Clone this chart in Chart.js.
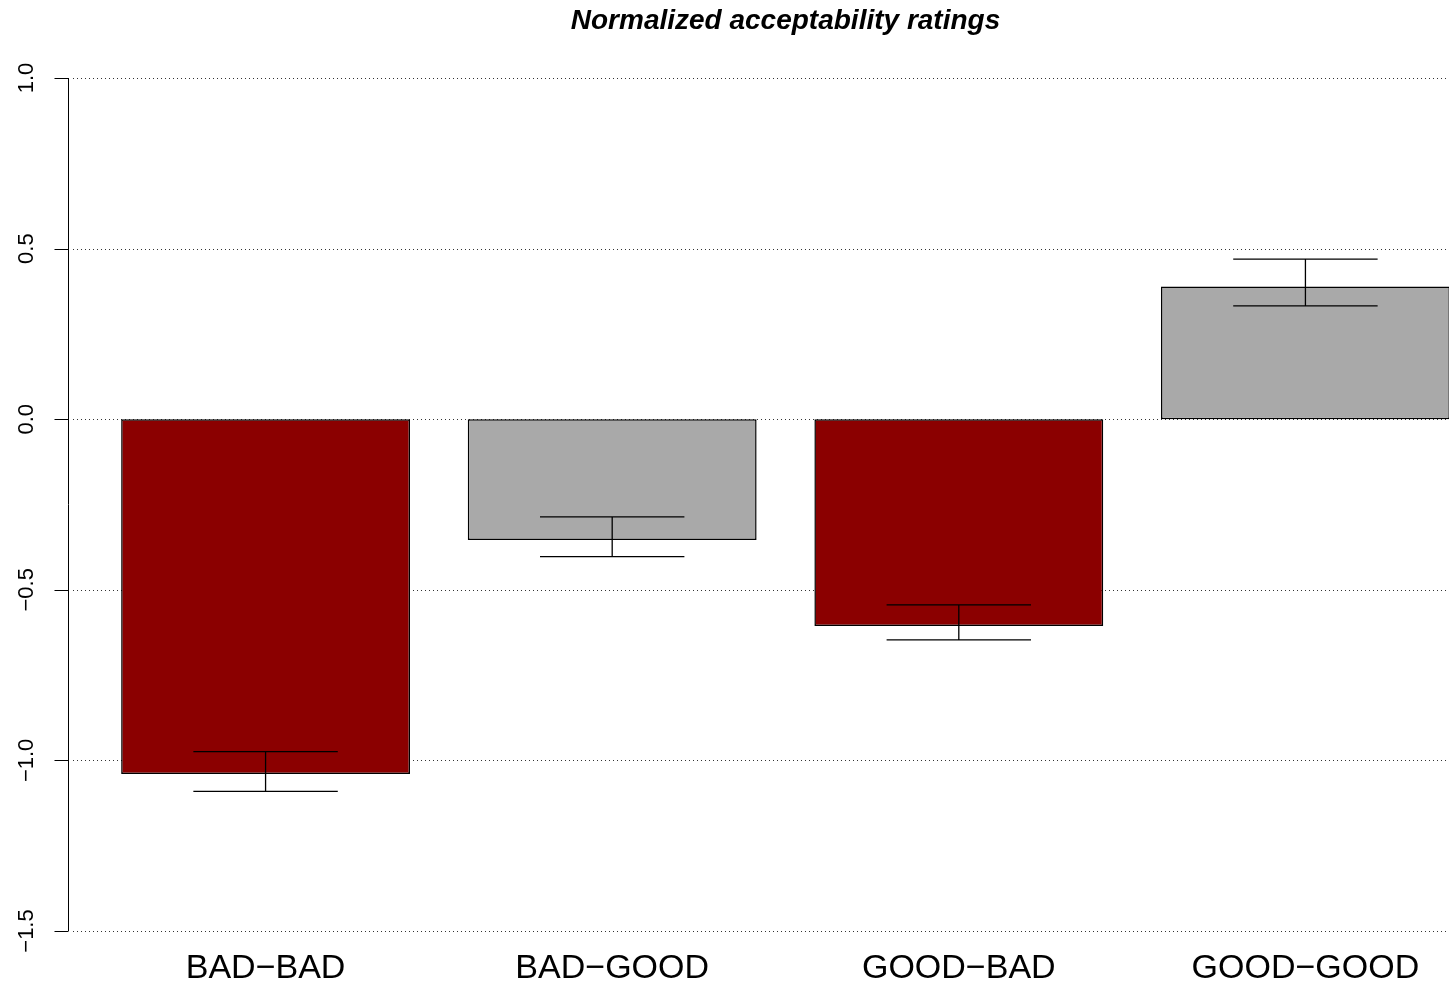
<!DOCTYPE html>
<html>
<head>
<meta charset="utf-8">
<title>Normalized acceptability ratings</title>
<script src="https://cdn.jsdelivr.net/npm/chart.js@4/dist/chart.umd.min.js"></script>
<style>
    html, body { margin: 0; padding: 0; background: #fff; overflow: hidden; }
    #wrap { width: 1520px; height: 994px; }
</style>
</head>
<body>
<div id="wrap"><canvas id="ratingChart" width="1520" height="994"></canvas></div>
<script>
// Data dibaca dari gambar referensi
const kategori = ['BAD\u2212BAD', 'BAD\u2212GOOD', 'GOOD\u2212BAD', 'GOOD\u2212GOOD'];
const posisiX = [0.7, 1.9, 3.1, 4.3];             // posisi bar ala barplot R (width 1, space 0.2)
const nilai = [-1.04, -0.354, -0.606, 0.389];
const errAtas = [-0.974, -0.286, -0.544, 0.469];
const errBawah = [-1.091, -0.403, -0.647, 0.332];
const warnaBar = ['#8B0000', '#A9A9A9', '#8B0000', '#A9A9A9'];
const tickY = [-1.5, -1.0, -0.5, 0.0, 0.5, 1.0];

const FONT = '"Liberation Sans", Arial, Helvetica, sans-serif';

// Format angka tick sumbu y pakai tanda minus asli
function formatTick(v) {
    const s = Math.abs(v).toFixed(1);
    return v < 0 ? '\u2212' + s : s;
}

// Garis grid putus-putus, digambar sebelum bar
const gridPlugin = {
    id: 'gridTitik',
    beforeDatasetsDraw(chart) {
        const { ctx, chartArea, scales } = chart;
        ctx.save();
        ctx.strokeStyle = '#333';
        ctx.lineWidth = 1;
        ctx.setLineDash([1, 3]);
        tickY.forEach(v => {
            const y = Math.round(scales.y.getPixelForValue(v)) + 0.5;
            ctx.beginPath();
            ctx.moveTo(chartArea.left + 5, y);
            ctx.lineTo(chartArea.right, y);
            ctx.stroke();
        });
        ctx.restore();
    }
};

// Error bar, sumbu y gaya R, label kategori dan judul
const decorPlugin = {
    id: 'decorR',
    afterDatasetsDraw(chart) {
        const { ctx, chartArea, scales } = chart;
        const sx = scales.x, sy = scales.y;
        ctx.save();

        // error bar dengan cap
        ctx.strokeStyle = '#000';
        ctx.lineWidth = 1.3;
        posisiX.forEach((x, i) => {
            const cx = sx.getPixelForValue(x);
            const kiri = sx.getPixelForValue(x - 0.25);
            const kanan = sx.getPixelForValue(x + 0.25);
            const yA = sy.getPixelForValue(errAtas[i]);
            const yB = sy.getPixelForValue(errBawah[i]);
            ctx.beginPath();
            ctx.moveTo(cx, yA); ctx.lineTo(cx, yB);
            ctx.moveTo(kiri, yA); ctx.lineTo(kanan, yA);
            ctx.moveTo(kiri, yB); ctx.lineTo(kanan, yB);
            ctx.stroke();
        });

        // sumbu y
        const ax = Math.round(chartArea.left) + 0.5;
        ctx.lineWidth = 1;
        ctx.beginPath();
        ctx.moveTo(ax, sy.getPixelForValue(tickY[tickY.length - 1]));
        ctx.lineTo(ax, sy.getPixelForValue(tickY[0]));
        tickY.forEach(v => {
            const y = Math.round(sy.getPixelForValue(v)) + 0.5;
            ctx.moveTo(ax, y);
            ctx.lineTo(ax - 14, y);
        });
        ctx.stroke();

        // label tick y, diputar 90 derajat
        ctx.fillStyle = '#000';
        ctx.font = '22px ' + FONT;
        ctx.textAlign = 'center';
        ctx.textBaseline = 'middle';
        tickY.forEach(v => {
            const y = sy.getPixelForValue(v);
            ctx.save();
            ctx.translate(27, y);
            ctx.rotate(-Math.PI / 2);
            ctx.fillText(formatTick(v), 0, 0);
            ctx.restore();
        });

        // label kategori
        ctx.font = '34px ' + FONT;
        posisiX.forEach((x, i) => {
            ctx.fillText(kategori[i], sx.getPixelForValue(x), 969);
        });

        // judul
        ctx.font = 'italic bold 28px ' + FONT;
        ctx.fillText('Normalized acceptability ratings', (chartArea.left + chartArea.right) / 2, 21);

        ctx.restore();
    }
};

const ctx = document.getElementById('ratingChart').getContext('2d');

new Chart(ctx, {
    type: 'bar',
    data: {
        datasets: [{
            label: 'Rating',
            data: posisiX.map((x, i) => ({ x: x, y: nilai[i] })),
            backgroundColor: warnaBar,
            borderColor: '#000',
            borderWidth: 1.5,
            borderSkipped: false,
            categoryPercentage: 1,
            barPercentage: 1 / 1.2
        }]
    },
    options: {
        responsive: false,
        animation: false,
        layout: { padding: { left: 68, right: 17, top: 78, bottom: 63 } },
        plugins: {
            legend: { display: false },
            tooltip: { enabled: false },
            title: { display: false }
        },
        scales: {
            x: {
                type: 'linear', min: 0.016, max: 4.984, display: false,
                offset: false, grid: { offset: false },
                // tick x = posisi bar, supaya lebar bar dihitung dari jarak antar bar
                afterBuildTicks: (scale) => { scale.ticks = posisiX.map(v => ({ value: v })); }
            },
            y: { type: 'linear', min: -1.5, max: 1.0, display: false }
        }
    },
    plugins: [gridPlugin, decorPlugin]
});
</script>
</body>
</html>
